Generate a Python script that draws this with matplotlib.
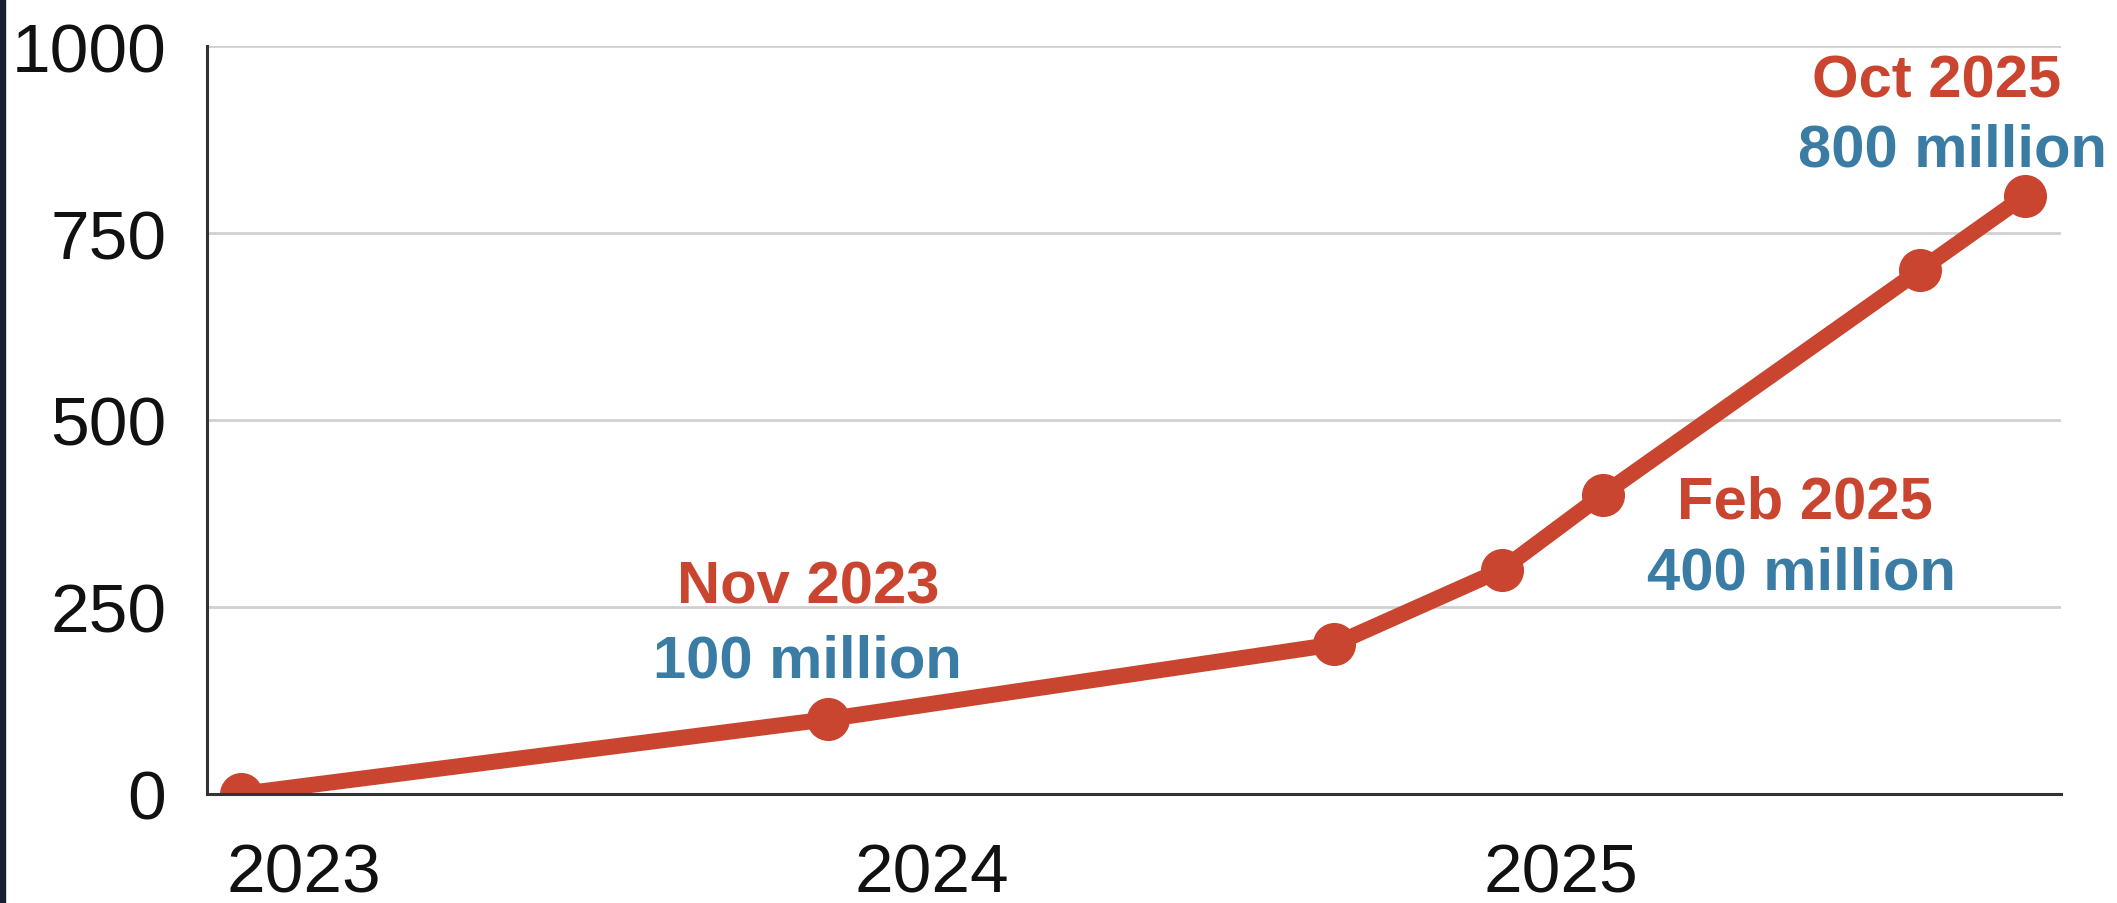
#!/usr/bin/env python3
"""Weekly active users line chart, drawn offline with matplotlib."""

import matplotlib

matplotlib.use("Agg")
import matplotlib.pyplot as plt
from matplotlib.patches import Rectangle

# x positions as decimal years, y in millions of users
YEARS = [2022.899, 2023.834, 2024.640, 2024.907, 2025.067, 2025.572, 2025.740]
USERS = [0, 100, 200, 300, 400, 700, 800]

Y_TICKS = [0, 250, 500, 750, 1000]
X_TICKS = [2023.0, 2024.0, 2025.0]
X_TICK_LABELS = ["2023", "2024", "2025"]

# (point index, date label, value label, date offset px, value offset px)
CALLOUTS = [
    (1, "Nov 2023", "100 million", (-20, 132), (-20, 58)),
    (4, "Feb 2025", "400 million", (202, -7), (199, -78)),
    (6, "Oct 2025", "800 million", (-89, 115), (-73, 46)),
]

COLORS = {
    "line": "#C9452F",
    "date": "#C9452F",
    "value": "#3A7CA3",
    "grid": "#D0D0D0",
    "spine": "#333333",
    "frame": "#1B2030",
}

FONT = ["Liberation Sans", "DejaVu Sans"]


def main() -> None:
    plt.rcParams["font.family"] = FONT

    fig = plt.figure(figsize=(21.17, 9.04), dpi=100)
    ax = fig.add_axes([0.0976, 0.1206, 0.876, 0.8274])

    # clipped so the first marker sits half under the x axis, like the source
    ax.plot(
        YEARS,
        USERS,
        color=COLORS["line"],
        linewidth=11.5,
        marker="o",
        markersize=30,
        solid_capstyle="round",
        clip_on=True,
        zorder=3,
    )

    ax.set_xlim(2022.845, 2025.797)
    ax.set_ylim(0, 1000)
    ax.set_yticks(Y_TICKS)
    ax.set_xticks(X_TICKS, labels=X_TICK_LABELS)
    ax.tick_params(axis="both", length=0, labelsize=50, colors="#111111")
    ax.tick_params(axis="y", pad=29)
    ax.tick_params(axis="x", pad=34)

    ax.grid(axis="y", color=COLORS["grid"], linewidth=2)
    ax.set_axisbelow(True)
    for side in ("top", "right"):
        ax.spines[side].set_visible(False)
    for side in ("left", "bottom"):
        ax.spines[side].set_color(COLORS["spine"])
        ax.spines[side].set_linewidth(2.2)
        ax.spines[side].set_zorder(4)

    for index, date_text, value_text, date_off, value_off in CALLOUTS:
        point = (YEARS[index], USERS[index])
        ax.annotate(
            date_text,
            point,
            xytext=date_off,
            textcoords="offset pixels",
            ha="center",
            va="center",
            fontsize=43,
            fontweight="bold",
            color=COLORS["date"],
            annotation_clip=False,
        )
        ax.annotate(
            value_text,
            point,
            xytext=value_off,
            textcoords="offset pixels",
            ha="center",
            va="center",
            fontsize=43,
            fontweight="bold",
            color=COLORS["value"],
            annotation_clip=False,
        )

    # thin dark strip on the left edge of the screenshot
    fig.patches.append(
        Rectangle((0, 0), 0.0025, 1, transform=fig.transFigure, color=COLORS["frame"], zorder=10)
    )

    fig.savefig("out.png", dpi=100, facecolor="white")
    plt.close(fig)


if __name__ == "__main__":
    main()
